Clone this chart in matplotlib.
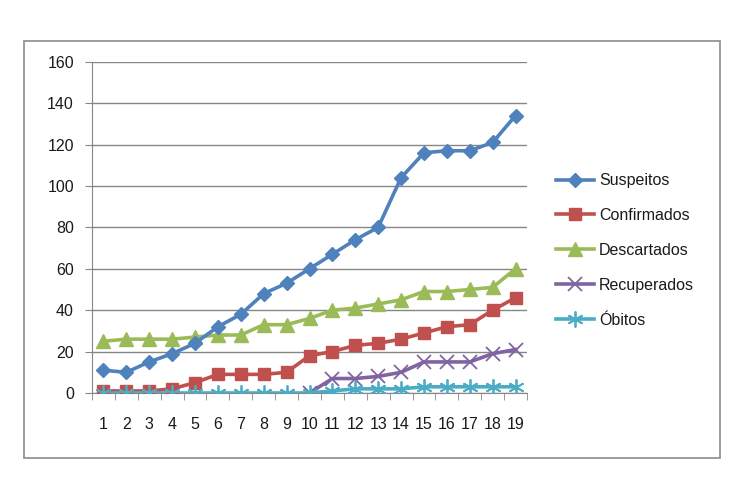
import matplotlib
matplotlib.use("Agg")
import matplotlib.pyplot as plt
import numpy as np
from matplotlib.patches import Rectangle

plt.rcParams['font.family'] = ['Liberation Sans', 'DejaVu Sans']

days = list(range(1, 20))
suspeitos = [11, 10, 15, 19, 24, 32, 38, 48, 53, 60, 67, 74, 80, 104, 116, 117, 117, 121, 134]
confirmados = [1, 1, 1, 2, 5, 9, 9, 9, 10, 18, 20, 23, 24, 26, 29, 32, 33, 40, 46]
descartados = [25, 26, 26, 26, 27, 28, 28, 33, 33, 36, 40, 41, 43, 45, 49, 49, 50, 51, 60]
recuperados = [np.nan] * 9 + [0, 7, 7, 8, 10, 15, 15, 15, 19, 21]
obitos = [0, 0, 0, 0, 0, 0, 0, 0, 0, 0, 1, 2, 2, 2, 3, 3, 3, 3, 3]
yticks = [0, 20, 40, 60, 80, 100, 120, 140, 160]

fig = plt.figure(figsize=(7.45, 5.0), dpi=100)
fig.patches.append(Rectangle((24/745, 1-458/500), (720-24)/745, (458-41)/500,
                             transform=fig.transFigure, fill=False,
                             edgecolor='#8c8c8c', linewidth=1.2))
ax = fig.add_axes([92/745, 1-393/500, (527-92)/745, (393-61.7)/500])

lw = 2.6
ax.plot(days, suspeitos, color='#4F81BD', lw=lw, marker='D', ms=7.5, label='Suspeitos', zorder=5)
ax.plot(days, confirmados, color='#C0504D', lw=lw, marker='s', ms=8.5, label='Confirmados', zorder=4)
ax.plot(days, descartados, color='#9BBB59', lw=lw, marker='^', ms=9.5, label='Descartados', zorder=3)
ax.plot(days, recuperados, color='#8064A2', lw=lw, marker='x', ms=9.5, mew=1.3, label='Recuperados', zorder=2)
ax.plot(days, obitos, color='#4BACC6', lw=lw, marker=(6, 2, 0), ms=11.5, mew=1.3, label='Óbitos', zorder=6)

ax.set_xlim(0.5, 19.5)
ax.set_ylim(0, 160)
ax.set_yticks(yticks)
ax.set_xticks(days)
ax.set_xticks(np.arange(0.5, 20, 1), minor=True)
ax.tick_params(axis='x', which='major', length=0, pad=17, labelsize=11.5, labelcolor='#1a1a1a')
ax.tick_params(axis='x', which='minor', length=5, color='#868686', direction='out')
ax.tick_params(axis='y', length=5, color='#868686', labelsize=11.5, pad=8, labelcolor='#1a1a1a')
ax.grid(axis='y', color='#868686', lw=1)
ax.set_axisbelow(True)
for s in ['top', 'right']:
    ax.spines[s].set_visible(False)
for s in ['left', 'bottom']:
    ax.spines[s].set_color('#868686')

leg = ax.legend(loc='center left', bbox_to_anchor=(1.033, 0.43), frameon=False,
                fontsize=11.5, labelspacing=1.25, handlelength=2.4, handletextpad=0.3)
for t in leg.get_texts():
    t.set_color('#1a1a1a')

fig.savefig('out.png', dpi=100)
